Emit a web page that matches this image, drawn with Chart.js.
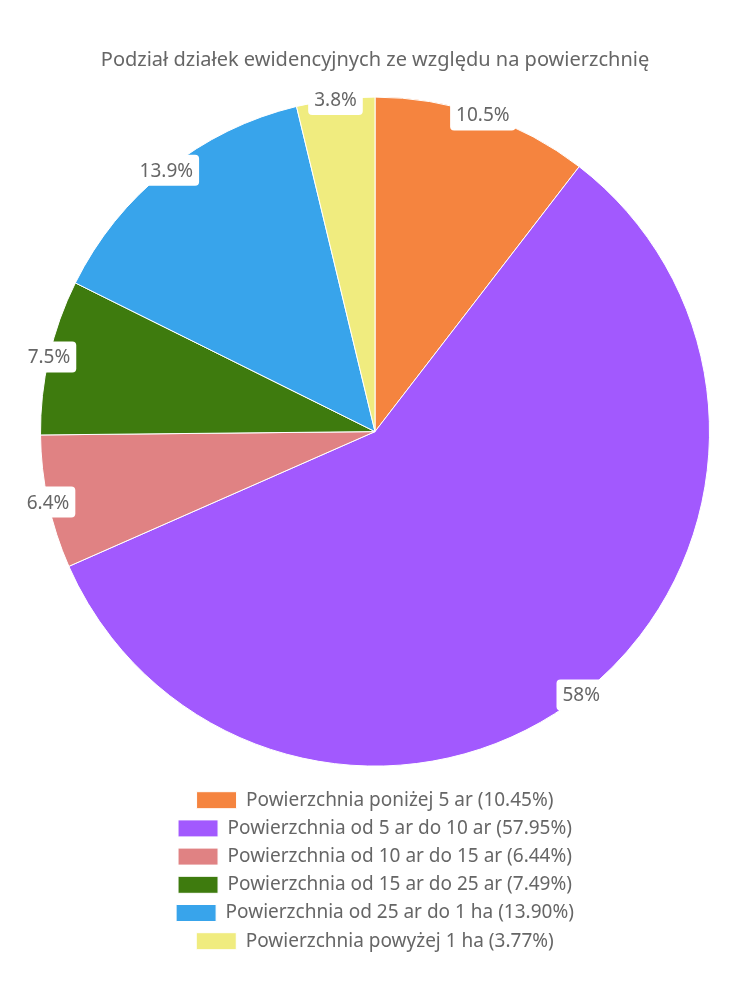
<!DOCTYPE html>
<html>
<head>
<meta charset="utf-8">
<script src="https://cdn.jsdelivr.net/npm/chart.js@4"></script>
<style>
  html, body { margin: 0; padding: 0; background: #fff; }
  #wrap { width: 750px; height: 1000px; }
</style>
</head>
<body>
<div id="wrap"><canvas id="chart"></canvas></div>
<script>
// dane wykresu
const categories = [
    'Powierzchnia poniżej 5 ar',
    'Powierzchnia od 5 ar do 10 ar',
    'Powierzchnia od 10 ar do 15 ar',
    'Powierzchnia od 15 ar do 25 ar',
    'Powierzchnia od 25 ar do 1 ha',
    'Powierzchnia powyżej 1 ha'
];
const shares = [10.45, 57.95, 6.44, 7.49, 13.90, 3.77];
const sliceColors = ['#f5843f', '#a259fe', '#e08283', '#3e7b0e', '#38a4eb', '#f0ec7f'];
const chartTitle = 'Podział działek ewidencyjnych ze względu na powierzchnię';

const FONT = '"Noto Sans", sans-serif';
const TEXT_COLOR = '#666';

// etykiety procentowe na krawędzi wycinka
const edgeLabels = {
    id: 'edgeLabels',
    afterDatasetsDraw(chart) {
        const ctx = chart.ctx;
        const meta = chart.getDatasetMeta(0);
        ctx.save();
        ctx.font = '19px ' + FONT;
        ctx.textAlign = 'center';
        ctx.textBaseline = 'middle';
        meta.data.forEach((arc, i) => {
            const p = arc.getProps(['x', 'y', 'startAngle', 'endAngle', 'outerRadius'], true);
            const mid = (p.startAngle + p.endAngle) / 2;
            const cx = p.x + Math.cos(mid) * p.outerRadius;
            const cy = p.y + Math.sin(mid) * p.outerRadius;
            const text = (Math.round(shares[i] * 10) / 10) + '%';
            const w = ctx.measureText(text).width + 12;
            const h = 31;
            ctx.fillStyle = '#fff';
            ctx.beginPath();
            ctx.roundRect(cx - w / 2, cy - h / 2, w, h, 4);
            ctx.fill();
            ctx.fillStyle = TEXT_COLOR;
            ctx.fillText(text, cx, cy + 1);
        });
        ctx.restore();
    }
};

new Chart(document.getElementById('chart'), {
    type: 'pie',
    data: {
        labels: categories,
        datasets: [{
            data: shares,
            backgroundColor: sliceColors,
            borderColor: '#fff',
            borderWidth: 1
        }]
    },
    options: {
        responsive: true,
        maintainAspectRatio: false,
        animation: false,
        layout: {
            padding: { left: 40, right: 40, top: 0, bottom: 39.3 }
        },
        plugins: {
            title: {
                display: true,
                text: chartTitle,
                color: TEXT_COLOR,
                font: { family: FONT, size: 20, weight: 'normal' },
                padding: { top: 48, bottom: 9.7 }
            },
            legend: {
                position: 'bottom',
                labels: {
                    color: TEXT_COLOR,
                    font: { family: FONT, size: 19 },
                    boxWidth: 40,
                    boxHeight: 17,
                    padding: 9.2,
                    generateLabels(chart) {
                        return categories.map((name, i) => ({
                            text: name + ' (' + shares[i].toFixed(2) + '%)',
                            fillStyle: sliceColors[i],
                            strokeStyle: '#fff',
                            lineWidth: 1,
                            fontColor: TEXT_COLOR,
                            hidden: false,
                            index: i
                        }));
                    }
                }
            },
            tooltip: { enabled: false }
        }
    },
    plugins: [edgeLabels]
});
</script>
</body>
</html>
